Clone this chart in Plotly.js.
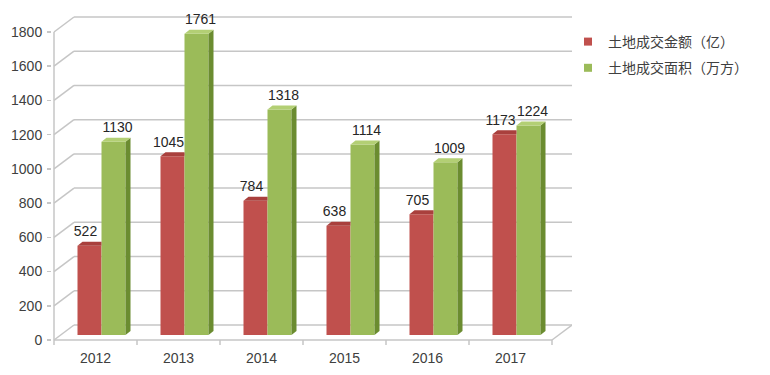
<!DOCTYPE html>
<html>
<head>
<meta charset="utf-8">
<script src="https://cdn.plot.ly/plotly-3.0.1.min.js"></script>
<style>html,body{margin:0;padding:0;background:#fff;}#chart{width:770px;height:375px;}</style>
</head>
<body>
<div id="chart"></div>
<script>
// ---- data ----
const years = ['2012', '2013', '2014', '2015', '2016', '2017'];
const amountYi = [522, 1045, 784, 638, 705, 1173];       // 土地成交金额（亿）
const areaWan = [1130, 1761, 1318, 1114, 1009, 1224];    // 土地成交面积（万方）
const yTicks = [0, 200, 400, 600, 800, 1000, 1200, 1400, 1600, 1800];
const seriesNames = ['土地成交金额（亿）', '土地成交面积（万方）'];

// ---- geometry (pixels -> axis units) ----
const L = 52, T = 10, PLOT_W = 520, PLOT_H = 338;
const PX_X = 83;             // px per category
const PX_Y = 308 / 1800;     // px per value unit
const ZERO_PX_FROM_BOTTOM = 8;
const xr = [-0.5 - 2 / PX_X, -0.5 - 2 / PX_X + PLOT_W / PX_X];
const yr = [-ZERO_PX_FROM_BOTTOM / PX_Y, (PLOT_H - ZERO_PX_FROM_BOTTOM) / PX_Y];
const WX = 20 / PX_X, WY = 15 / PX_Y;   // wall depth
const BX = 6 / PX_X, BY = 5 / PX_Y;     // bar row offset
const BW = 24 / PX_X;                   // bar width
const DX = 5 / PX_X, DY = 4 / PX_Y;     // bar depth
const LABEL_GAP = 2 / PX_Y;
const LABEL_SHIFT = 4 / PX_X;

const C = {
  red: '#c0504d', redTop: '#a9403d',
  green: '#9bbb59', greenTop: '#b3cf74', greenSide: '#6b8c30',
  grid: '#c6c6c6', text: '#404040'
};
const NUM_FONT = 'Liberation Sans, Arial, sans-serif';
const idx = years.map((_, i) => i);
const maxX = years.length - 0.5;

// shapes: back wall gridlines, left diagonals, floor
const shapes = [];
const line = (x0, y0, x1, y1) => shapes.push({type: 'line', xref: 'x', yref: 'y', x0, y0, x1, y1, layer: 'below', line: {color: C.grid, width: 1.5}});
yTicks.forEach(v => {
  line(-0.5 + WX, v + WY, maxX + WX, v + WY);
  line(-0.5, v, -0.5 + WX, v + WY);
});
line(-0.5, 0, maxX, 0);
line(maxX, 0, maxX + WX, WY);
line(-0.5, 0, -0.5, yTicks[yTicks.length - 1]);
for (let b = -0.5; b <= maxX + 1e-9; b += 1) line(b, 0, b, -5 / PX_Y);

// polygons for 3D faces
function polys(vals, left, faceFn) {
  const xs = [], ys = [];
  vals.forEach((v, i) => {
    const pts = faceFn(left(i), left(i) + BW, BY, v + BY);
    pts.forEach(p => { xs.push(p[0]); ys.push(p[1]); });
    xs.push(null); ys.push(null);
  });
  return {xs, ys};
}
const redLeft = i => i + BX - BW;
const greenLeft = i => i + BX;

const redTopP = polys(amountYi, redLeft, (xl, xrr, b, t) => [[xl, t], [xrr, t], [xrr, t + DY], [xl + DX, t + DY], [xl, t]]);
const greenSideP = polys(areaWan, greenLeft, (xl, xrr, b, t) => [[xrr, b], [xrr + DX, b + DY], [xrr + DX, t + DY], [xrr, t], [xrr, b]]);
const greenTopP = polys(areaWan, greenLeft, (xl, xrr, b, t) => [[xl, t], [xrr, t], [xrr + DX, t + DY], [xl + DX, t + DY], [xl, t]]);

const poly = (p, color) => ({type: 'scatter', mode: 'lines', x: p.xs, y: p.ys, fill: 'toself', fillcolor: color, line: {width: 0, color: color}, hoverinfo: 'skip', showlegend: false});
const labels = (vals, left, shift) => ({type: 'scatter', mode: 'text', x: idx.map(i => left(i) + BW / 2 + shift), y: vals.map(v => v + BY + DY + LABEL_GAP), text: vals.map(String), textposition: 'top center', textfont: {family: NUM_FONT, size: 14, color: '#262626'}, cliponaxis: false, showlegend: false, hoverinfo: 'skip'});

const traces = [
  {type: 'bar', x: idx.map(i => redLeft(i) + BW / 2), y: amountYi, base: BY, width: BW, marker: {color: C.red, line: {width: 0}}, showlegend: false},
  {type: 'bar', x: idx.map(i => greenLeft(i) + BW / 2), y: areaWan, base: BY, width: BW, marker: {color: C.green, line: {width: 0}}, showlegend: false},
  poly(redTopP, C.redTop),
  poly(greenSideP, C.greenSide),
  poly(greenTopP, C.greenTop),
  labels(amountYi, redLeft, -LABEL_SHIFT),
  labels(areaWan, greenLeft, LABEL_SHIFT),
  {type: 'scatter', mode: 'markers', x: [null], y: [null], name: seriesNames[0], marker: {symbol: 'square', size: 8, color: C.red}, legendgroup: 'a'},
  {type: 'scatter', mode: 'markers', x: [null], y: [null], name: seriesNames[1], marker: {symbol: 'square', size: 8, color: C.green}, legendgroup: 'b'}
];

const layout = {
  width: 770, height: 375,
  margin: {l: L, r: 770 - L - PLOT_W, t: T, b: 375 - T - PLOT_H, pad: 0},
  paper_bgcolor: '#fff', plot_bgcolor: '#fff',
  showlegend: true,
  barmode: 'overlay',
  xaxis: {range: xr, tickvals: idx, ticktext: years, showgrid: false, zeroline: false, showline: false, ticks: '',
          tickfont: {family: NUM_FONT, size: 14, color: C.text}, fixedrange: true},
  yaxis: {range: yr, tickvals: yTicks, showgrid: false, zeroline: false, showline: false, ticks: 'outside', ticklen: 4, tickcolor: C.grid, tickwidth: 1.5,
          ticklabelstandoff: 2, tickfont: {family: NUM_FONT, size: 14, color: C.text}, fixedrange: true},
  shapes: shapes,
  legend: {x: (568 - L) / PLOT_W, xanchor: 'left', y: (PLOT_H + T - 26) / PLOT_H, yanchor: 'top',
           font: {family: 'Noto Sans CJK SC, sans-serif', size: 14, color: C.text}, tracegroupgap: 5, bgcolor: 'rgba(0,0,0,0)'},
  font: {family: NUM_FONT}
};

Plotly.newPlot('chart', traces, layout, {displayModeBar: false, staticPlot: true});
</script>
</body>
</html>
